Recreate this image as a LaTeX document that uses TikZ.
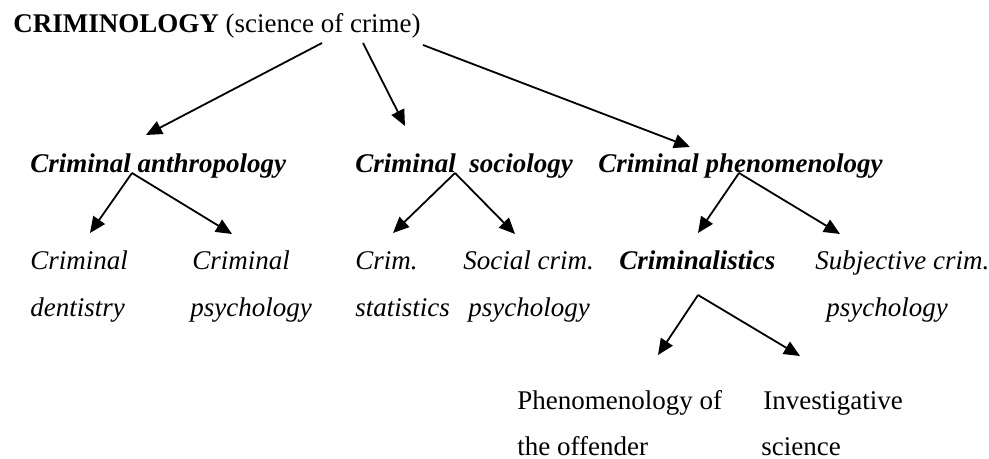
\documentclass[tikz,border=0pt]{standalone}
\usepackage{fontspec}
\setmainfont{Liberation Serif}
\usetikzlibrary{arrows.meta}
\tikzset{
  lbl/.style={anchor=base west, inner sep=0pt, font=\fontsize{13.5}{15}\selectfont},
  bi/.style={lbl, font=\fontsize{13.5}{15}\selectfont\bfseries\itshape},
  it/.style={lbl, font=\fontsize{13.5}{15}\selectfont\itshape},
  arr/.style={line width=0.9pt, -{Triangle[length=8pt,width=7pt]}}
}
\begin{document}
\begin{tikzpicture}[x=0.5pt,y=-0.5pt]
\useasboundingbox (0,0) rectangle (989,459);
% texts
\node[lbl] (crim) at (13,33) {\textbf{CRIMINOLOGY} (science of crime)};
\node[bi] (anth) at (30,173) {Criminal anthropology};
\node[bi] (soc) at (355,173) {Criminal\ \ sociology};
\node[bi] (phen) at (598,173) {Criminal phenomenology};
\node[it] (dent1) at (30,270) {Criminal};
\node[it] (dent2) at (30,317) {dentistry};
\node[it] (psy1) at (192,270) {Criminal};
\node[it] (psy2) at (190,317) {psychology};
\node[it] (stat1) at (355,270) {Crim.};
\node[it] (stat2) at (355,317) {statistics};
\node[it] (scp1) at (463,270) {Social crim.};
\node[it] (scp2) at (468,317) {psychology};
\node[bi] (cls) at (619,270) {Criminalistics};
\node[it] (sub1) at (815,270) {Subjective crim.};
\node[it] (sub2) at (826,317) {psychology};
\node[lbl] (po1) at (517,409) {Phenomenology of};
\node[lbl] (po2) at (517,455) {the offender};
\node[lbl] (is1) at (763,409) {Investigative};
\node[lbl] (is2) at (761,455) {science};
% connector points
\coordinate (c1) at (322,43);
\coordinate (c2) at (363,43);
\coordinate (c3) at (423,45);
\coordinate (t1) at (146,135);
\coordinate (t2) at (405,126);
\coordinate (t3) at (690,147);
\coordinate (a0) at (132,173);
\coordinate (a1) at (90,233);
\coordinate (a2) at (232,234);
\coordinate (s0) at (455,173);
\coordinate (s1) at (393,233);
\coordinate (s2) at (515,234);
\coordinate (p0) at (739,173);
\coordinate (p1) at (698,233);
\coordinate (p2) at (840,234);
\coordinate (k0) at (698,295);
\coordinate (k1) at (658,355);
\coordinate (k2) at (800,356);
% connectors
\draw[arr] (c1) -- (t1);
\draw[arr] (c2) -- (t2);
\draw[arr] (c3) -- (t3);
\draw[arr] (a0) -- (a1);
\draw[arr] (a0) -- (a2);
\draw[arr] (s0) -- (s1);
\draw[arr] (s0) -- (s2);
\draw[arr] (p0) -- (p1);
\draw[arr] (p0) -- (p2);
\draw[arr] (k0) -- (k1);
\draw[arr] (k0) -- (k2);
\end{tikzpicture}
\end{document}
